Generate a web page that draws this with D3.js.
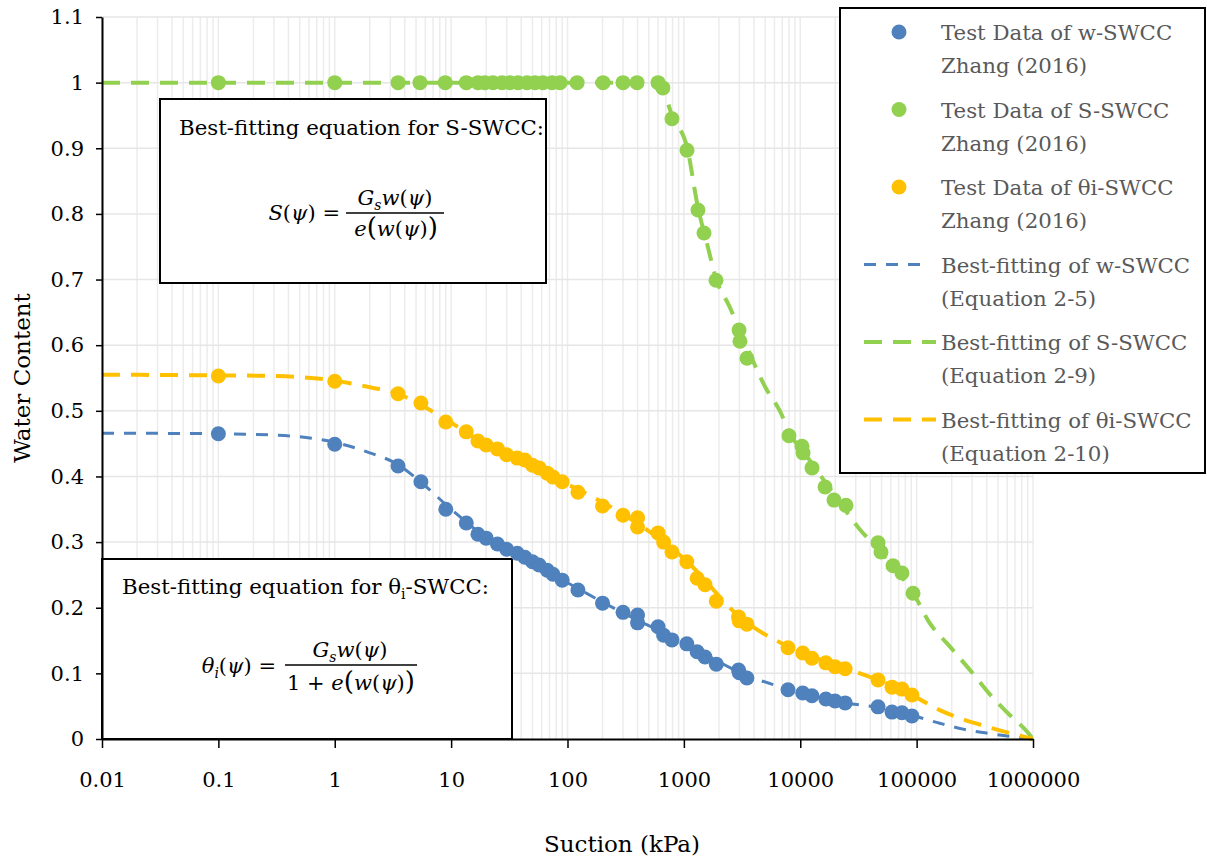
<!DOCTYPE html>
<html>
<head>
<meta charset="utf-8">
<script src="https://cdn.jsdelivr.net/npm/d3@7"></script>
<style>
  body { margin: 0; background: #fff; }
  svg text { font-family: "DejaVu Serif", serif; }
</style>
</head>
<body>
<div id="plot"></div>
<script>
// measured test data (suction in kPa, water content)
const wSuction = [0.1, 1, 3.5, 5.5, 9, 13.5, 17, 20, 25, 30, 37, 43, 50, 57, 67, 75, 90, 123, 200, 300, 400, 400, 600, 670, 790, 1060, 1300, 1520, 1900, 2950, 2990, 3480, 7850, 10500, 12600, 16600, 19900, 24300, 46600, 61400, 74800, 91200];
const wValues = [0.465, 0.449, 0.416, 0.392, 0.350, 0.329, 0.312, 0.306, 0.297, 0.289, 0.283, 0.277, 0.270, 0.265, 0.257, 0.251, 0.242, 0.227, 0.207, 0.193, 0.189, 0.177, 0.171, 0.158, 0.151, 0.145, 0.133, 0.125, 0.114, 0.105, 0.101, 0.093, 0.075, 0.070, 0.066, 0.061, 0.058, 0.055, 0.049, 0.041, 0.040, 0.035];
const thetaValues = [0.553, 0.545, 0.526, 0.512, 0.483, 0.468, 0.454, 0.448, 0.442, 0.433, 0.428, 0.425, 0.417, 0.413, 0.405, 0.399, 0.392, 0.376, 0.355, 0.341, 0.337, 0.323, 0.314, 0.300, 0.285, 0.270, 0.245, 0.235, 0.210, 0.186, 0.180, 0.175, 0.139, 0.131, 0.123, 0.116, 0.110, 0.107, 0.090, 0.079, 0.076, 0.067];
const sSuction = [0.1, 1, 3.5, 5.4, 8.9, 13.5, 17, 19.5, 22.9, 27.4, 32, 37.6, 44.9, 52.6, 61.5, 73.6, 86.2, 121, 202, 300, 396, 600, 660, 790, 1064, 1322, 1489, 1888, 2979, 3034, 3485, 8000, 10350, 10570, 12620, 16330, 19500, 24700, 46600, 49400, 62700, 74800, 93100];
const sValues = [1, 1, 1, 1, 1, 1, 1, 1, 1, 1, 1, 1, 1, 1, 1, 1, 1, 1, 1, 1, 1, 1, 0.992, 0.945, 0.897, 0.806, 0.771, 0.699, 0.623, 0.606, 0.580, 0.462, 0.446, 0.436, 0.413, 0.384, 0.364, 0.356, 0.299, 0.285, 0.264, 0.253, 0.222];

// best-fitting curves
const fitSuction = [0.01, 0.1, 0.3, 1, 2, 3.5, 5.6, 10, 20, 50, 100, 316, 1000, 3162, 10000, 25000, 50000, 100000, 158000, 251000, 398000, 631000, 1000000];
const wFit = [0.466, 0.465, 0.463, 0.452, 0.436, 0.418, 0.390, 0.350, 0.307, 0.268, 0.238, 0.190, 0.147, 0.100, 0.071, 0.055, 0.047, 0.034, 0.024, 0.015, 0.009, 0.004, 0];
const thetaFit = [0.555, 0.554, 0.553, 0.546, 0.536, 0.526, 0.508, 0.482, 0.447, 0.412, 0.388, 0.340, 0.275, 0.183, 0.133, 0.107, 0.088, 0.063, 0.044, 0.030, 0.019, 0.009, 0];
const sFitSuction = [0.01, 1, 100, 560, 660, 790, 1070, 1320, 1580, 1900, 2450, 3160, 5010, 6760, 7940, 12600, 20000, 31600, 50100, 79400, 100000, 126000, 195000, 288000, 457000, 603000, 891000, 1000000];
const sFit = [1, 1, 1, 1, 0.99, 0.95, 0.9, 0.81, 0.755, 0.70, 0.66, 0.615, 0.536, 0.498, 0.47, 0.42, 0.37, 0.322, 0.283, 0.24, 0.213, 0.18, 0.14, 0.105, 0.062, 0.04, 0.011, 0];

const xTicks = [0.01, 0.1, 1, 10, 100, 1000, 10000, 100000, 1000000];
const yTicks = [0, 0.1, 0.2, 0.3, 0.4, 0.5, 0.6, 0.7, 0.8, 0.9, 1, 1.1];

const blue = "#4F81BD", green = "#92D050", yellow = "#FFC000";

const width = 1207, height = 860;
const svg = d3.select("#plot").append("svg")
    .attr("width", width)
    .attr("height", height);

const x = d3.scaleLog().domain([0.01, 1000000]).range([102, 1033]);
const y = d3.scaleLinear().domain([0, 1.1]).range([739, 17]);

// gridlines
const minor = [];
for (let d = -2; d < 6; d++) {
    for (let k = 1; k < 10; k++) minor.push(k * Math.pow(10, d));
}
minor.push(1000000);
svg.append("g").selectAll("line")
    .data(minor)
    .enter().append("line")
    .attr("x1", d => x(d)).attr("x2", d => x(d))
    .attr("y1", y(1.1)).attr("y2", y(0))
    .style("stroke", "#ececec")
    .style("stroke-width", 1.5);
svg.append("g").selectAll("line")
    .data(yTicks.slice(1))
    .enter().append("line")
    .attr("x1", x(0.01)).attr("x2", x(1000000))
    .attr("y1", d => y(d)).attr("y2", d => y(d))
    .style("stroke", "#e6e6e6")
    .style("stroke-width", 1.5);

// equation boxes
const box1 = svg.append("g");
box1.append("rect")
    .attr("x", 160).attr("y", 99).attr("width", 386).attr("height", 184)
    .style("fill", "white").style("stroke", "black").style("stroke-width", 2);
box1.append("text").attr("x", 179).attr("y", 135)
    .style("font-size", "21.3px").text("Best-fitting equation for S-SWCC:");

const box2 = svg.append("g");
box2.append("rect")
    .attr("x", 102).attr("y", 559).attr("width", 410).attr("height", 180)
    .style("fill", "white").style("stroke", "black").style("stroke-width", 2);
const t2 = box2.append("text").attr("x", 122).attr("y", 594).style("font-size", "21.3px");
t2.append("tspan").text("Best-fitting equation for \u03B8");
t2.append("tspan").attr("dy", 5).style("font-size", "14px").text("i");
t2.append("tspan").attr("dy", -5).text("-SWCC:");

// math formulas
function lhs(g, xe, yb, sym, sub) {
    const t = g.append("text").attr("x", xe).attr("y", yb)
        .attr("text-anchor", "end")
        .style("font-size", "21px");
    t.append("tspan").style("font-style", "italic").text(sym);
    if (sub) {
        t.append("tspan").attr("dy", 5).style("font-size", "14px").style("font-style", "italic").text(sub);
        t.append("tspan").attr("dy", -5).text("(");
    } else {
        t.append("tspan").text("(");
    }
    t.append("tspan").style("font-style", "italic").text("\u03C8");
    t.append("tspan").text(") =");
}
function numer(g, xc, yb) {
    const t = g.append("text").attr("x", xc).attr("y", yb)
        .attr("text-anchor", "middle")
        .style("font-size", "21px");
    t.append("tspan").style("font-style", "italic").text("G");
    t.append("tspan").attr("dy", 5).style("font-size", "14px").style("font-style", "italic").text("s");
    t.append("tspan").attr("dy", -5).style("font-style", "italic").text("w");
    t.append("tspan").text("(");
    t.append("tspan").style("font-style", "italic").text("\u03C8");
    t.append("tspan").text(")");
}
function denom(g, xc, yb, prefix) {
    const t = g.append("text").attr("x", xc).attr("y", yb)
        .attr("text-anchor", "middle")
        .style("font-size", "21px");
    if (prefix) t.append("tspan").text(prefix);
    t.append("tspan").style("font-style", "italic").text("e");
    t.append("tspan").style("font-size", "26px").text("(");
    t.append("tspan").style("font-style", "italic").text("w");
    t.append("tspan").text("(");
    t.append("tspan").style("font-style", "italic").text("\u03C8");
    t.append("tspan").text(")");
    t.append("tspan").style("font-size", "26px").text(")");
}
lhs(box1, 340, 220, "S");
box1.append("line").attr("x1", 346).attr("x2", 444).attr("y1", 213).attr("y2", 213)
    .style("stroke", "black").style("stroke-width", 1.3);
numer(box1, 395, 205);
denom(box1, 396, 236);

lhs(box2, 276, 673, "\u03B8", "i");
box2.append("line").attr("x1", 285).attr("x2", 417).attr("y1", 665).attr("y2", 665)
    .style("stroke", "black").style("stroke-width", 1.3);
numer(box2, 350, 657);
denom(box2, 351, 690, "1 + ");

// fitted curves
const line = d3.line()
    .x(d => x(d[0]))
    .y(d => y(d[1]))
    .curve(d3.curveMonotoneX);

const fits = [
    { xs: fitSuction, ys: wFit, color: blue, w: 3, dash: "12,10" },
    { xs: sFitSuction, ys: sFit, color: green, w: 4, dash: "18,11" },
    { xs: fitSuction, ys: thetaFit, color: yellow, w: 4, dash: "18,11" }
];
fits.forEach(f => {
    svg.append("path")
        .datum(f.xs.map((s, i) => [s, f.ys[i]]))
        .attr("d", line)
        .style("fill", "none")
        .style("stroke", f.color)
        .style("stroke-width", f.w)
        .style("stroke-dasharray", f.dash);
});

// test data points
const series = [
    { xs: wSuction, ys: wValues, color: blue },
    { xs: sSuction, ys: sValues, color: green },
    { xs: wSuction, ys: thetaValues, color: yellow }
];
series.forEach(s => {
    svg.append("g").selectAll("circle")
        .data(s.xs.map((v, i) => [v, s.ys[i]]))
        .enter().append("circle")
        .attr("cx", d => x(d[0]))
        .attr("cy", d => y(d[1]))
        .attr("r", 7.5)
        .style("fill", s.color);
});

// axes
const xAxis = svg.append("g")
    .attr("transform", `translate(0,${y(0)})`)
    .call(d3.axisBottom(x).tickValues(xTicks).tickFormat(d => String(d)).tickSizeInner(9).tickSizeOuter(0).tickPadding(24));
const yAxis = svg.append("g")
    .attr("transform", `translate(${x(0.01)},0)`)
    .call(d3.axisLeft(y).tickValues(yTicks).tickFormat(d => String(d)).tickSizeInner(6).tickSizeOuter(0).tickPadding(12));
[xAxis, yAxis].forEach(a => {
    a.select(".domain").style("stroke", "black").style("stroke-width", 2);
    a.selectAll(".tick line").style("stroke", "black").style("stroke-width", 1.5);
    a.selectAll(".tick text")
        .style("font-family", "DejaVu Serif, serif")
        .style("font-size", "21px")
        .style("fill", "black");
});

svg.append("text")
    .attr("x", 622).attr("y", 852)
    .attr("text-anchor", "middle")
    .style("font-size", "23px")
    .text("Suction (kPa)");
svg.append("text")
    .attr("transform", "translate(30,378) rotate(-90)")
    .attr("text-anchor", "middle")
    .style("font-size", "23px")
    .text("Water Content");

// legend
const legend = svg.append("g");
legend.append("rect")
    .attr("x", 840).attr("y", 8).attr("width", 365).attr("height", 465)
    .style("fill", "white").style("stroke", "black").style("stroke-width", 2);

const legendItems = [
    { type: "dot", color: blue, lines: ["Test Data of w-SWCC", "Zhang (2016)"] },
    { type: "dot", color: green, lines: ["Test Data of S-SWCC", "Zhang (2016)"] },
    { type: "dot", color: yellow, lines: ["Test Data of \u03B8i-SWCC", "Zhang (2016)"] },
    { type: "line", color: blue, w: 3, dash: "12,10", len: 58, lines: ["Best-fitting of w-SWCC", "(Equation 2-5)"] },
    { type: "line", color: green, w: 4, dash: "18,11", len: 72, lines: ["Best-fitting of S-SWCC", "(Equation 2-9)"] },
    { type: "line", color: yellow, w: 4, dash: "18,11", len: 72, lines: ["Best-fitting of \u03B8i-SWCC", "(Equation 2-10)"] }
];
legendItems.forEach((d, i) => {
    const base = 40 + i * 77.5;
    if (d.type === "dot") {
        legend.append("circle").attr("cx", 899).attr("cy", base - 8).attr("r", 7.5).style("fill", d.color);
    } else {
        legend.append("line")
            .attr("x1", 864).attr("x2", 864 + d.len)
            .attr("y1", base - 8).attr("y2", base - 8)
            .style("stroke", d.color).style("stroke-width", d.w)
            .style("stroke-dasharray", d.dash);
    }
    d.lines.forEach((l, j) => {
        legend.append("text")
            .attr("x", 941).attr("y", base + j * 33)
            .style("font-size", "21.3px")
            .style("fill", "#595959")
            .text(l);
    });
});
</script>
</body>
</html>
